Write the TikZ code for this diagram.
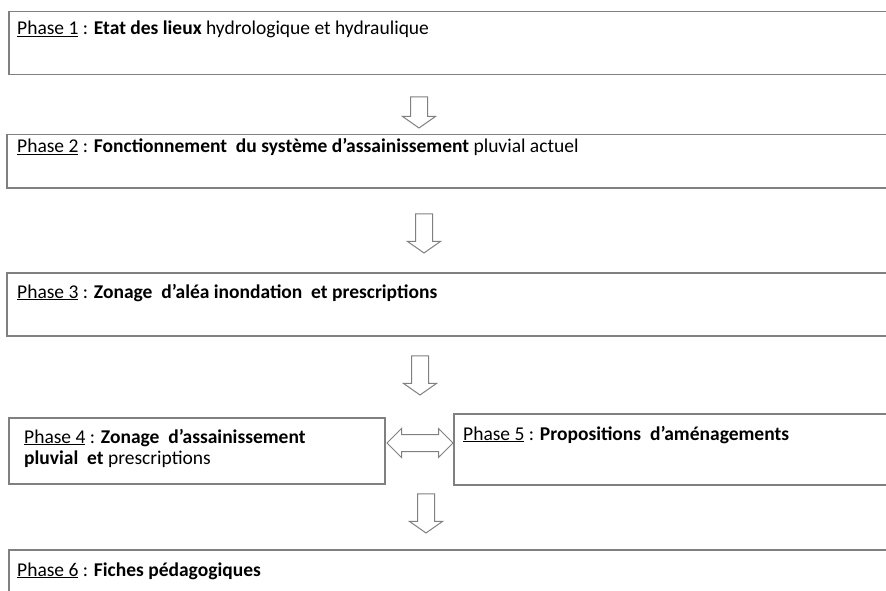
\documentclass[tikz,border=0pt]{standalone}
\usepackage{fontspec}
\setmainfont{Carlito}
\usetikzlibrary{shapes.arrows}

\definecolor{boxgray}{RGB}{128,128,128}

\begin{document}
\begin{tikzpicture}[x=1pt,y=-1pt,font=\fontsize{19.5}{21}\selectfont,
  phasebox/.style={draw=boxgray,line width=1.5pt,anchor=north west,inner sep=0pt},
  phasetext/.style={anchor=base west,inner sep=0pt,align=left},
  downarrow/.style={single arrow,draw=boxgray,line width=1pt,shape border rotate=270,
    inner sep=8pt,single arrow head extend=8pt,single arrow tip angle=110,minimum height=39pt},
  bothways/.style={double arrow,draw=boxgray,line width=1pt,
    inner sep=8pt,double arrow head extend=6pt,minimum height=66pt}]
\useasboundingbox (0,0) rectangle (886,591);
\clip (0,0) rectangle (886,591);

% boxes (they run off the right border)
\node[phasebox,minimum width=900pt,minimum height=63pt] (p1) at (8,11) {};
\node[phasebox,minimum width=900pt,minimum height=53pt] (p2) at (6,134) {};
\node[phasebox,minimum width=900pt,minimum height=63pt] (p3) at (6,272) {};
\node[phasebox,minimum width=376pt,minimum height=66pt] (p4) at (8,417) {};
\node[phasebox,minimum width=450pt,minimum height=71pt] (p5) at (453,413) {};
\node[phasebox,minimum width=900pt,minimum height=80pt] (p6) at (8,549) {};

% texts (base of a two-line node is its last line)
\node[phasetext] (t1) at (17,35) {\underline{Phase 1} : \textbf{Etat des lieux} hydrologique et hydraulique};
\node[phasetext] (t2) at (17,153) {\underline{Phase 2} : \textbf{Fonctionnement\ \ du syst\`eme d'assainissement} pluvial actuel};
\node[phasetext] (t3) at (17,298) {\underline{Phase 3} : \textbf{Zonage\ \ d'al\'ea inondation\ \ et prescriptions}};
\node[phasetext] (t4) at (24,464) {\underline{Phase 4} : \textbf{Zonage\ \ d'assainissement}\\\textbf{pluvial\ \ et} prescriptions};
\node[phasetext] (t5) at (463,440) {\underline{Phase 5} : \textbf{Propositions\ \ d'am\'enagements}};
\node[phasetext] (t6) at (17,576) {\underline{Phase 6} : \textbf{Fiches p\'edagogiques}};

% arrows
\node[downarrow,minimum height=31pt] (a1) at (419,109.5) {};
\node[downarrow] (a2) at (424,230.5) {};
\node[downarrow] (a3) at (420,372.5) {};
\node[downarrow] (a4) at (426,510.5) {};
\node[bothways] (a45) at (420,443) {};
\end{tikzpicture}
\end{document}
